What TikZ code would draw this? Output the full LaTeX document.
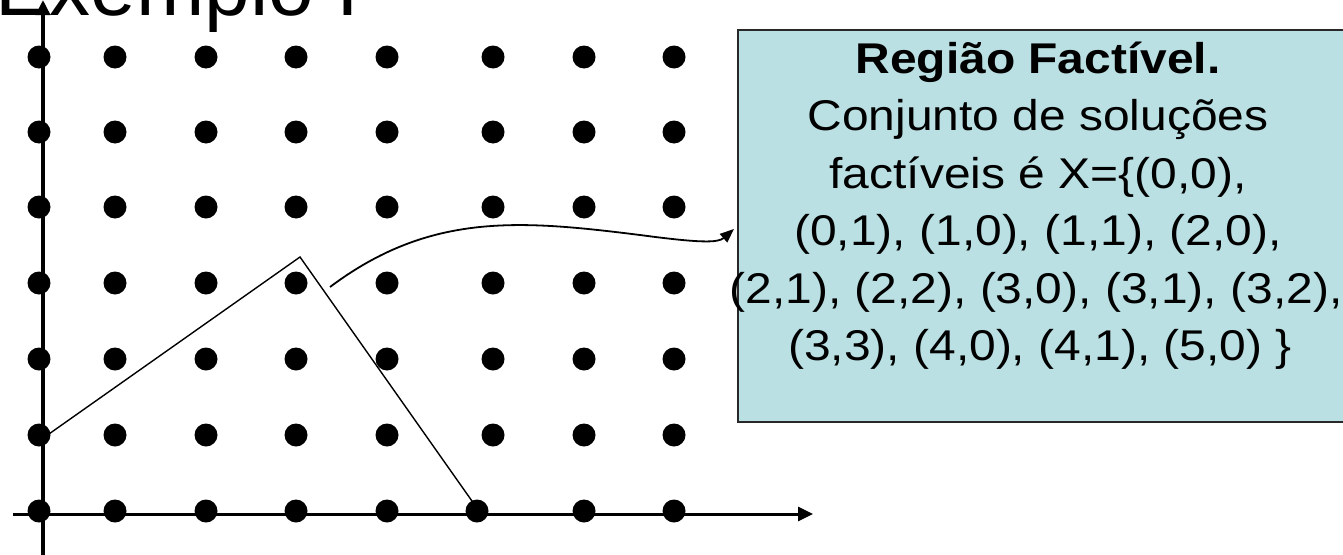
\documentclass[tikz,border=0pt]{standalone}
\usepackage{fontspec}
\setmainfont{Liberation Sans}
\newfontfamily\boxfont[FakeStretch=1.115]{Liberation Sans}
\usetikzlibrary{arrows.meta}
\definecolor{boxfill}{RGB}{186,224,227}
\definecolor{boxline}{RGB}{40,40,40}

\begin{document}
\begin{tikzpicture}[x=1pt,y=-1pt,
  dot/.style={circle,fill=black,inner sep=0pt,minimum size=23pt},
  axis/.style={line width=3pt,-{Triangle[length=15pt,width=14pt]}},
  bound/.style={line width=1.4pt},
  callout/.style={line width=1.8pt,-{Triangle[length=14pt,width=11pt]}},
  infobox/.style={draw=boxline,line width=2pt,fill=boxfill,inner sep=0pt},
  infotext/.style={font=\boxfont\fontsize{43}{50}\selectfont,anchor=base,inner sep=0pt},
  title/.style={font=\fontsize{82}{90}\selectfont,anchor=base west,inner sep=0pt}]
\useasboundingbox (0,0) rectangle (1343,554);

% axes
\coordinate (xo) at (13,514);
\coordinate (xe) at (813,514);
\coordinate (yo) at (43,560);
\coordinate (ye) at (43,0);
\draw[axis] (xo) -- (xe);
\draw[axis,line width=3.5pt] (yo) -- (ye);

% constraint boundary
\coordinate (p0) at (39,441);
\coordinate (p1) at (300,257);
\coordinate (p2) at (479,511);
\draw[bound] (p0) -- (p1) -- (p2);

% info box
\node[infobox,minimum width=609pt,minimum height=392pt] (box) at (1042.5,226) {};
\node[infotext] (l1) at (1038,73) {\bfseries Região Factível.};
\node[infotext] (l2) at (1038,130.5) {Conjunto de soluções};
\node[infotext] (l3) at (1038,188) {factíveis é X=\{(0,0),};
\node[infotext] (l4) at (1038,245.5) {(0,1), (1,0), (1,1), (2,0),};
\node[infotext] (l5) at (1036,303) {(2,1), (2,2), (3,0), (3,1), (3,2),};
\node[infotext] (l6) at (1040,360.5) {(3,3), (4,0), (4,1), (5,0) \}};

% callout arrow
\coordinate (cs) at (330,287);
\coordinate (ct) at ([xshift=-3pt]box.west |- 0,229);
\draw[callout] (cs) .. controls (430,212) and (520,220) .. (640,235)
  .. controls (700,243) and (718,243) .. (ct);

% integer lattice
\foreach \c/\x in {0/39,1/115,2/206,3/296,4/387,5/493,6/584,7/674}
  \foreach \r/\y in {1/435,2/359,3/283,4/207,5/132,6/57}
    \node[dot] (d\c\r) at (\x,\y) {};
\foreach \c/\x in {0/39,1/115,2/206,3/296,4/387,5/477,6/584,7/674}
  \node[dot] (d\c0) at (\x,511) {};

% title
\node[title] (ttl) at (-5,15) {Exemplo I};
\end{tikzpicture}
\end{document}
